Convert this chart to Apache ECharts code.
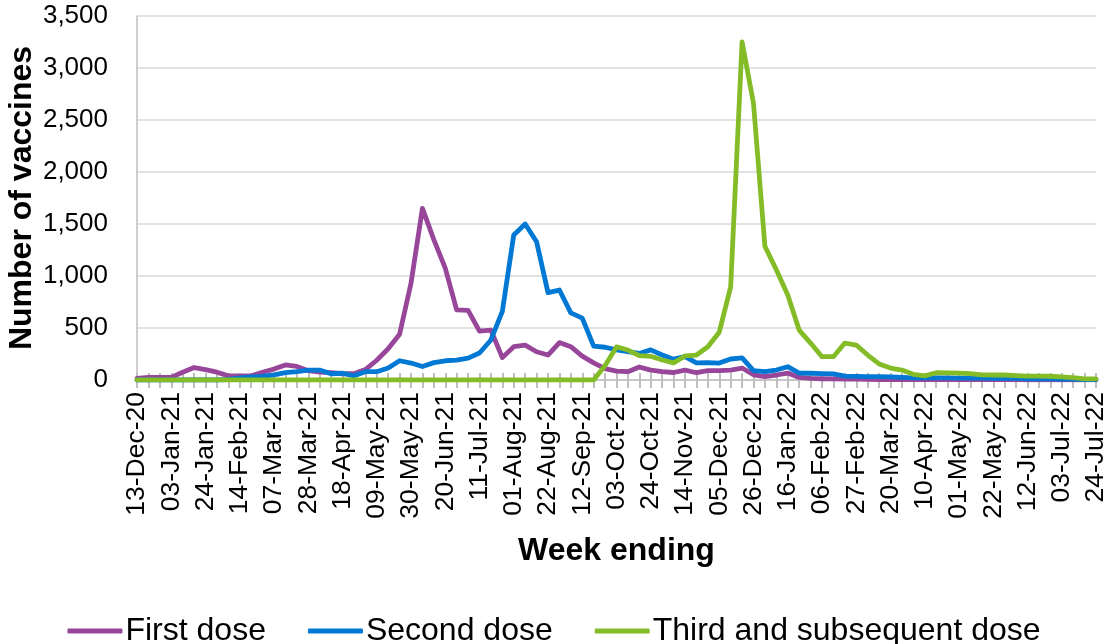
<!DOCTYPE html>
<html>
<head>
<meta charset="utf-8">
<script src="https://cdn.jsdelivr.net/npm/echarts@6/dist/echarts.min.js"></script>
<style>
html,body{margin:0;padding:0;background:#fff;}
#c{width:1108px;height:644px;}
</style>
</head>
<body>
<div id="c"></div>
<script>
var weeks = ['13-Dec-20','20-Dec-20','27-Dec-20','03-Jan-21','10-Jan-21','17-Jan-21','24-Jan-21','31-Jan-21','07-Feb-21','14-Feb-21','21-Feb-21','28-Feb-21','07-Mar-21','14-Mar-21','21-Mar-21','28-Mar-21','04-Apr-21','11-Apr-21','18-Apr-21','25-Apr-21','02-May-21','09-May-21','16-May-21','23-May-21','30-May-21','06-Jun-21','13-Jun-21','20-Jun-21','27-Jun-21','04-Jul-21','11-Jul-21','18-Jul-21','25-Jul-21','01-Aug-21','08-Aug-21','15-Aug-21','22-Aug-21','29-Aug-21','05-Sep-21','12-Sep-21','19-Sep-21','26-Sep-21','03-Oct-21','10-Oct-21','17-Oct-21','24-Oct-21','31-Oct-21','07-Nov-21','14-Nov-21','21-Nov-21','28-Nov-21','05-Dec-21','12-Dec-21','19-Dec-21','26-Dec-21','02-Jan-22','09-Jan-22','16-Jan-22','23-Jan-22','30-Jan-22','06-Feb-22','13-Feb-22','20-Feb-22','27-Feb-22','06-Mar-22','13-Mar-22','20-Mar-22','27-Mar-22','03-Apr-22','10-Apr-22','17-Apr-22','24-Apr-22','01-May-22','08-May-22','15-May-22','22-May-22','29-May-22','05-Jun-22','12-Jun-22','19-Jun-22','26-Jun-22','03-Jul-22','10-Jul-22','17-Jul-22','24-Jul-22'];

var firstDose = [15,25,25,25,75,120,100,75,40,40, 40,75,105,145,130,90,75,70,60,60, 100,190,300,440,930,1650,1350,1075,675,670, 470,480,215,320,335,272,240,360,320,230, 165,110,85,80,125,95,80,72,95,70, 90,90,95,115,50,32,48,67,25,15, 12,10,8,8,6,5,5,5,4,4, 4,4,3,3,3,3,3,3,2,2, 2,2,2,2,2];

var secondDose = [0,0,0,0,0,0,0,0,5,20, 30,35,50,70,80,95,95,60,65,40, 80,80,115,185,163,130,167,185,192,210, 260,385,660,1395,1500,1330,840,865,645,595, 325,315,290,272,255,290,240,200,225,165, 167,163,202,212,90,80,96,128,67,65, 62,58,38,35,32,32,30,25,20,20, 20,20,18,18,18,15,15,15,12,10, 10,8,8,5,5];

var thirdDose = [0,0,0,0,0,0,0,0,0,0, 0,0,0,0,0,0,0,0,0,0, 0,0,0,0,0,0,0,0,0,0, 0,0,0,0,0,0,0,0,0,0, 0, 140, 318,288,235,228,192,165,231,240, 320,460,895,3250,2660,1285,1060,817,480,355, 224,224,355,336,240,155,115,95,55,40, 70,68,66,62,50,48,48,42,38,38, 36,30,22,10,10];

var seriesNames = ['First dose','Second dose','Third and subsequent dose'];
var seriesColors = ['#97469A','#0078D4','#84BC27'];

var FONT = "'Liberation Sans', Arial, sans-serif";
var chart = echarts.init(document.getElementById('c'), null, {renderer:'canvas'});

function mk(name, data, color) {
  return {
    name: name, type: 'line', data: data, xAxisIndex: 0, yAxisIndex: 0,
    symbol: 'none', smooth: false,
    lineStyle: {color: color, width: 4.8, cap: 'round', join: 'round'},
    itemStyle: {color: color},
    emphasis: {disabled: true}
  };
}

chart.setOption({
  animation: false,
  textStyle: {fontFamily: FONT},
  grid: {left: 137, right: 12, top: 16, bottom: 264, containLabel: false, outerBoundsMode: 'none'},
  legend: {
    data: seriesNames,
    top: 610, left: 'center',
    icon: 'roundRect', itemWidth: 55, itemHeight: 5, itemGap: 42,
    textStyle: {fontSize: 32, color: '#000', fontFamily: FONT, padding: [0,0,0,-2]}
  },
  xAxis: [{
    type: 'category', data: weeks, boundaryGap: false,
    position: 'bottom', offset: 0,
    axisLine: {show: true, lineStyle: {color: '#BFBFBF', width: 1.5}},
    axisTick: {show: true, interval: 0, length: 8, lineStyle: {color: '#BFBFBF', width: 2}},
    axisLabel: {interval: 2, rotate: 90, margin: 12, fontSize: 26.5, color: '#000', fontFamily: FONT},
    splitLine: {show: false},
    name: 'Week ending', nameLocation: 'middle', nameGap: 155, nameMoveOverlap: false,
    nameTextStyle: {fontSize: 32, fontWeight: 'bold', color: '#000', fontFamily: FONT}
  }, {
    type: 'category', data: weeks, boundaryGap: false,
    position: 'bottom', offset: 0,
    axisLine: {show: false},
    axisTick: {show: true, inside: true, interval: 0, length: 7, lineStyle: {color: '#BFBFBF', width: 2}},
    axisLabel: {show: false},
    splitLine: {show: false}
  }],
  yAxis: {
    type: 'value', min: 0, max: 3500, interval: 500,
    axisLine: {show: true, lineStyle: {color: '#BFBFBF', width: 1.5}},
    axisTick: {show: false},
    axisLabel: {
      fontSize: 26, color: '#000', margin: 29, fontFamily: FONT,
      formatter: function (v) { return v.toLocaleString('en-US'); }
    },
    splitLine: {show: true, lineStyle: {color: '#D9D9D9', width: 1.5}},
    name: 'Number of vaccines', nameLocation: 'middle', nameGap: 99, nameMoveOverlap: false,
    nameTextStyle: {fontSize: 32, fontWeight: 'bold', color: '#000', fontFamily: FONT}
  },
  series: [
    mk(seriesNames[0], firstDose, seriesColors[0]),
    mk(seriesNames[1], secondDose, seriesColors[1]),
    mk(seriesNames[2], thirdDose, seriesColors[2])
  ]
});
</script>
</body>
</html>
